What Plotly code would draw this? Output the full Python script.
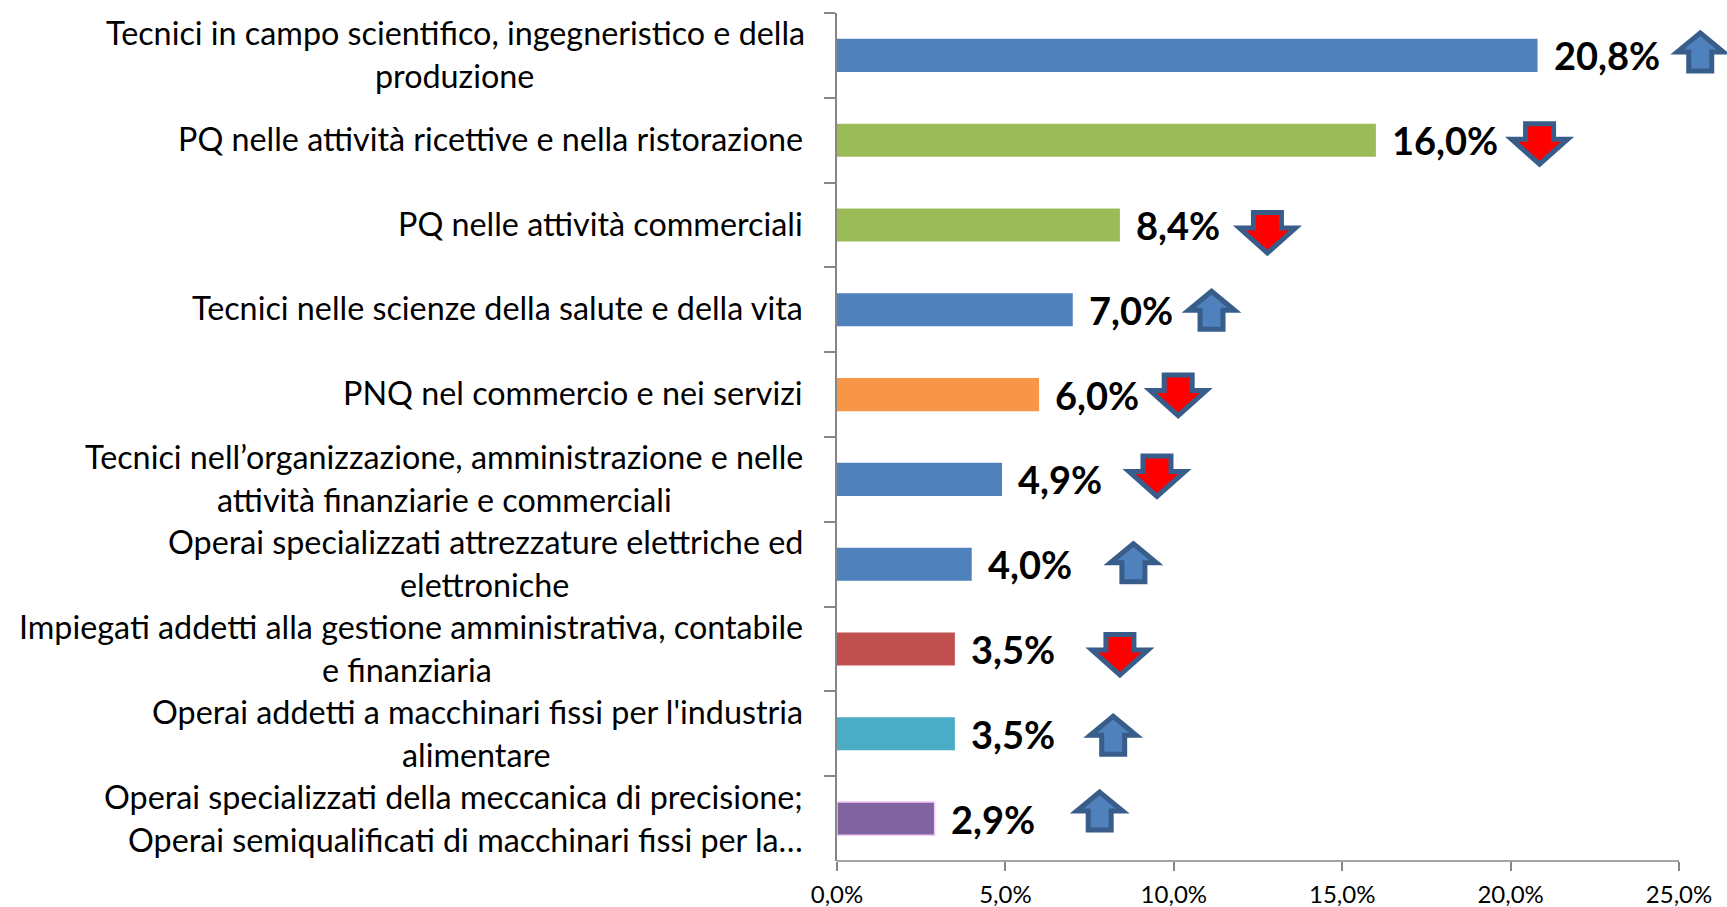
import plotly.graph_objects as go

labels = [
    ["Tecnici in campo scientifico, ingegneristico e della", "produzione"],
    ["PQ nelle attività ricettive e nella ristorazione"],
    ["PQ nelle attività commerciali"],
    ["Tecnici nelle scienze della salute e della vita"],
    ["PNQ nel commercio e nei servizi"],
    ["Tecnici nell’organizzazione, amministrazione e nelle", "attività finanziarie e commerciali"],
    ["Operai specializzati attrezzature elettriche ed", "elettroniche"],
    ["Impiegati addetti alla gestione amministrativa, contabile", "e finanziaria"],
    ["Operai addetti a macchinari fissi per l'industria", "alimentare"],
    ["Operai specializzati della meccanica di precisione;", "Operai semiqualificati di macchinari fissi per la…"],
]
values = [20.8, 16.0, 8.4, 7.0, 6.0, 4.9, 4.0, 3.5, 3.5, 2.9]
value_text = ["20,8%", "16,0%", "8,4%", "7,0%", "6,0%", "4,9%", "4,0%", "3,5%", "3,5%", "2,9%"]
colors = ["#4F81BD", "#9BBB59", "#9BBB59", "#4F81BD", "#F79646",
          "#4F81BD", "#4F81BD", "#C0504D", "#4BACC6", "#8064A2"]
outlines = colors[:-1] + ["#F7C9F7"]
outline_w = [0] * 9 + [1.5]
trend = ["up", "down", "down", "up", "down", "down", "up", "down", "up", "up"]
arrow_x = [25.63, 20.86, 12.78, 11.12, 10.13, 9.5, 8.8, 8.4, 8.2, 7.8]
arrow_dy = [4, -4, -8, 0, -1, 3, 2, -6, -1, 8]
tick_vals = [0, 5, 10, 15, 20, 25]
tick_text = ["0,0%", "5,0%", "10,0%", "15,0%", "20,0%", "25,0%"]
second_line_center = [412, 403, 440, 369, 432, None]

W, H = 1727, 907
LEFT, RIGHT_PX, TOP, BOTTOM = 836.7, 1679.0, 13, 861
AXIS = "#868686"
FONT = "Lato"
LABEL_SIZE = 32.3
VALUE_SIZE = 38
px_per_unit = (RIGHT_PX - LEFT) / 25
xmax = (W - LEFT) / px_per_unit

cats = [" ".join(l) for l in labels]

fig = go.Figure(go.Bar(
    x=values, y=cats, orientation="h", width=0.39,
    marker=dict(color=colors, line=dict(color=outlines, width=outline_w)),
    hoverinfo="skip",
))

annotations = []
lab_font = dict(family=FONT, size=LABEL_SIZE, color="#000")
for i, (lines, cat) in enumerate(zip(labels, cats)):
    base = dict(x=0, y=cat, xref="x", yref="y", showarrow=False, font=lab_font)
    if len(lines) == 1:
        annotations.append(dict(base, text=lines[0], xanchor="right", xshift=-32, yshift=2))
    else:
        annotations.append(dict(base, text=lines[0], xanchor="right",
                                xshift=-32 + (2 if i == 0 else 0), yshift=22.5))
        multi = [j for j, l in enumerate(labels) if len(l) == 2].index(i)
        c = second_line_center[multi]
        if c is None:
            annotations.append(dict(base, text=lines[1], xanchor="right", xshift=-32, yshift=-20.5))
        else:
            annotations.append(dict(base, text=lines[1], xanchor="center",
                                    xshift=c * W / 1568 - LEFT, yshift=-20.5))
    annotations.append(dict(x=values[i], y=cat, xref="x", yref="y", text=f"<b>{value_text[i]}</b>",
                            showarrow=False, xanchor="left", xshift=14,
                            font=dict(family=FONT, size=VALUE_SIZE, color="#000")))

UP = [(0, 18.5), (23, -0.5), (11.5, -0.5), (11.5, -19.5), (-11.5, -19.5), (-11.5, -0.5), (-23, -0.5)]
DOWN = [(0, -20), (28, 5), (14, 5), (14, 20.5), (-14, 20.5), (-14, 5), (-28, 5)]

def arrow_path(direction, dy):
    pts = UP if direction == "up" else DOWN
    return "M " + " L ".join(f"{x} {y + dy}" for x, y in pts) + " Z"

shapes = [dict(type="line", xref="x", yref="paper", x0=0, x1=25, y0=0, y1=0,
               line=dict(color=AXIS, width=1.5), layer="above")]
for cat, d, ax, dy in zip(cats, trend, arrow_x, arrow_dy):
    shapes.append(dict(type="path", xref="x", yref="y", xsizemode="pixel", ysizemode="pixel",
                       xanchor=ax, yanchor=cat, path=arrow_path(d, dy),
                       fillcolor="#4F81BD" if d == "up" else "#FF0000",
                       line=dict(color="#385D8A", width=5)))

fig.update_layout(
    width=W, height=H, autosize=False,
    margin=dict(l=LEFT, r=0, t=TOP, b=H - BOTTOM, pad=0),
    paper_bgcolor="white", plot_bgcolor="white", showlegend=False,
    annotations=annotations, shapes=shapes,
    xaxis=dict(range=[0, xmax], tickvals=tick_vals, ticktext=tick_text, ticks="outside",
               ticklen=9, tickwidth=1.5, tickcolor=AXIS, showgrid=False, zeroline=False,
               showline=False, ticklabelstandoff=3, tickfont=dict(family=FONT, size=24, color="#000")),
    yaxis=dict(type="category", categoryorder="array", categoryarray=cats, range=[9.5, -0.5],
               showticklabels=False, ticks="outside", tickson="boundaries", ticklen=11,
               tickwidth=1.5, tickcolor=AXIS, showline=True, linecolor=AXIS, linewidth=1.5,
               showgrid=False, zeroline=False),
)
fig.write_html("out.html", post_script="document.body.style.margin='0';", config=dict(displayModeBar=False))
